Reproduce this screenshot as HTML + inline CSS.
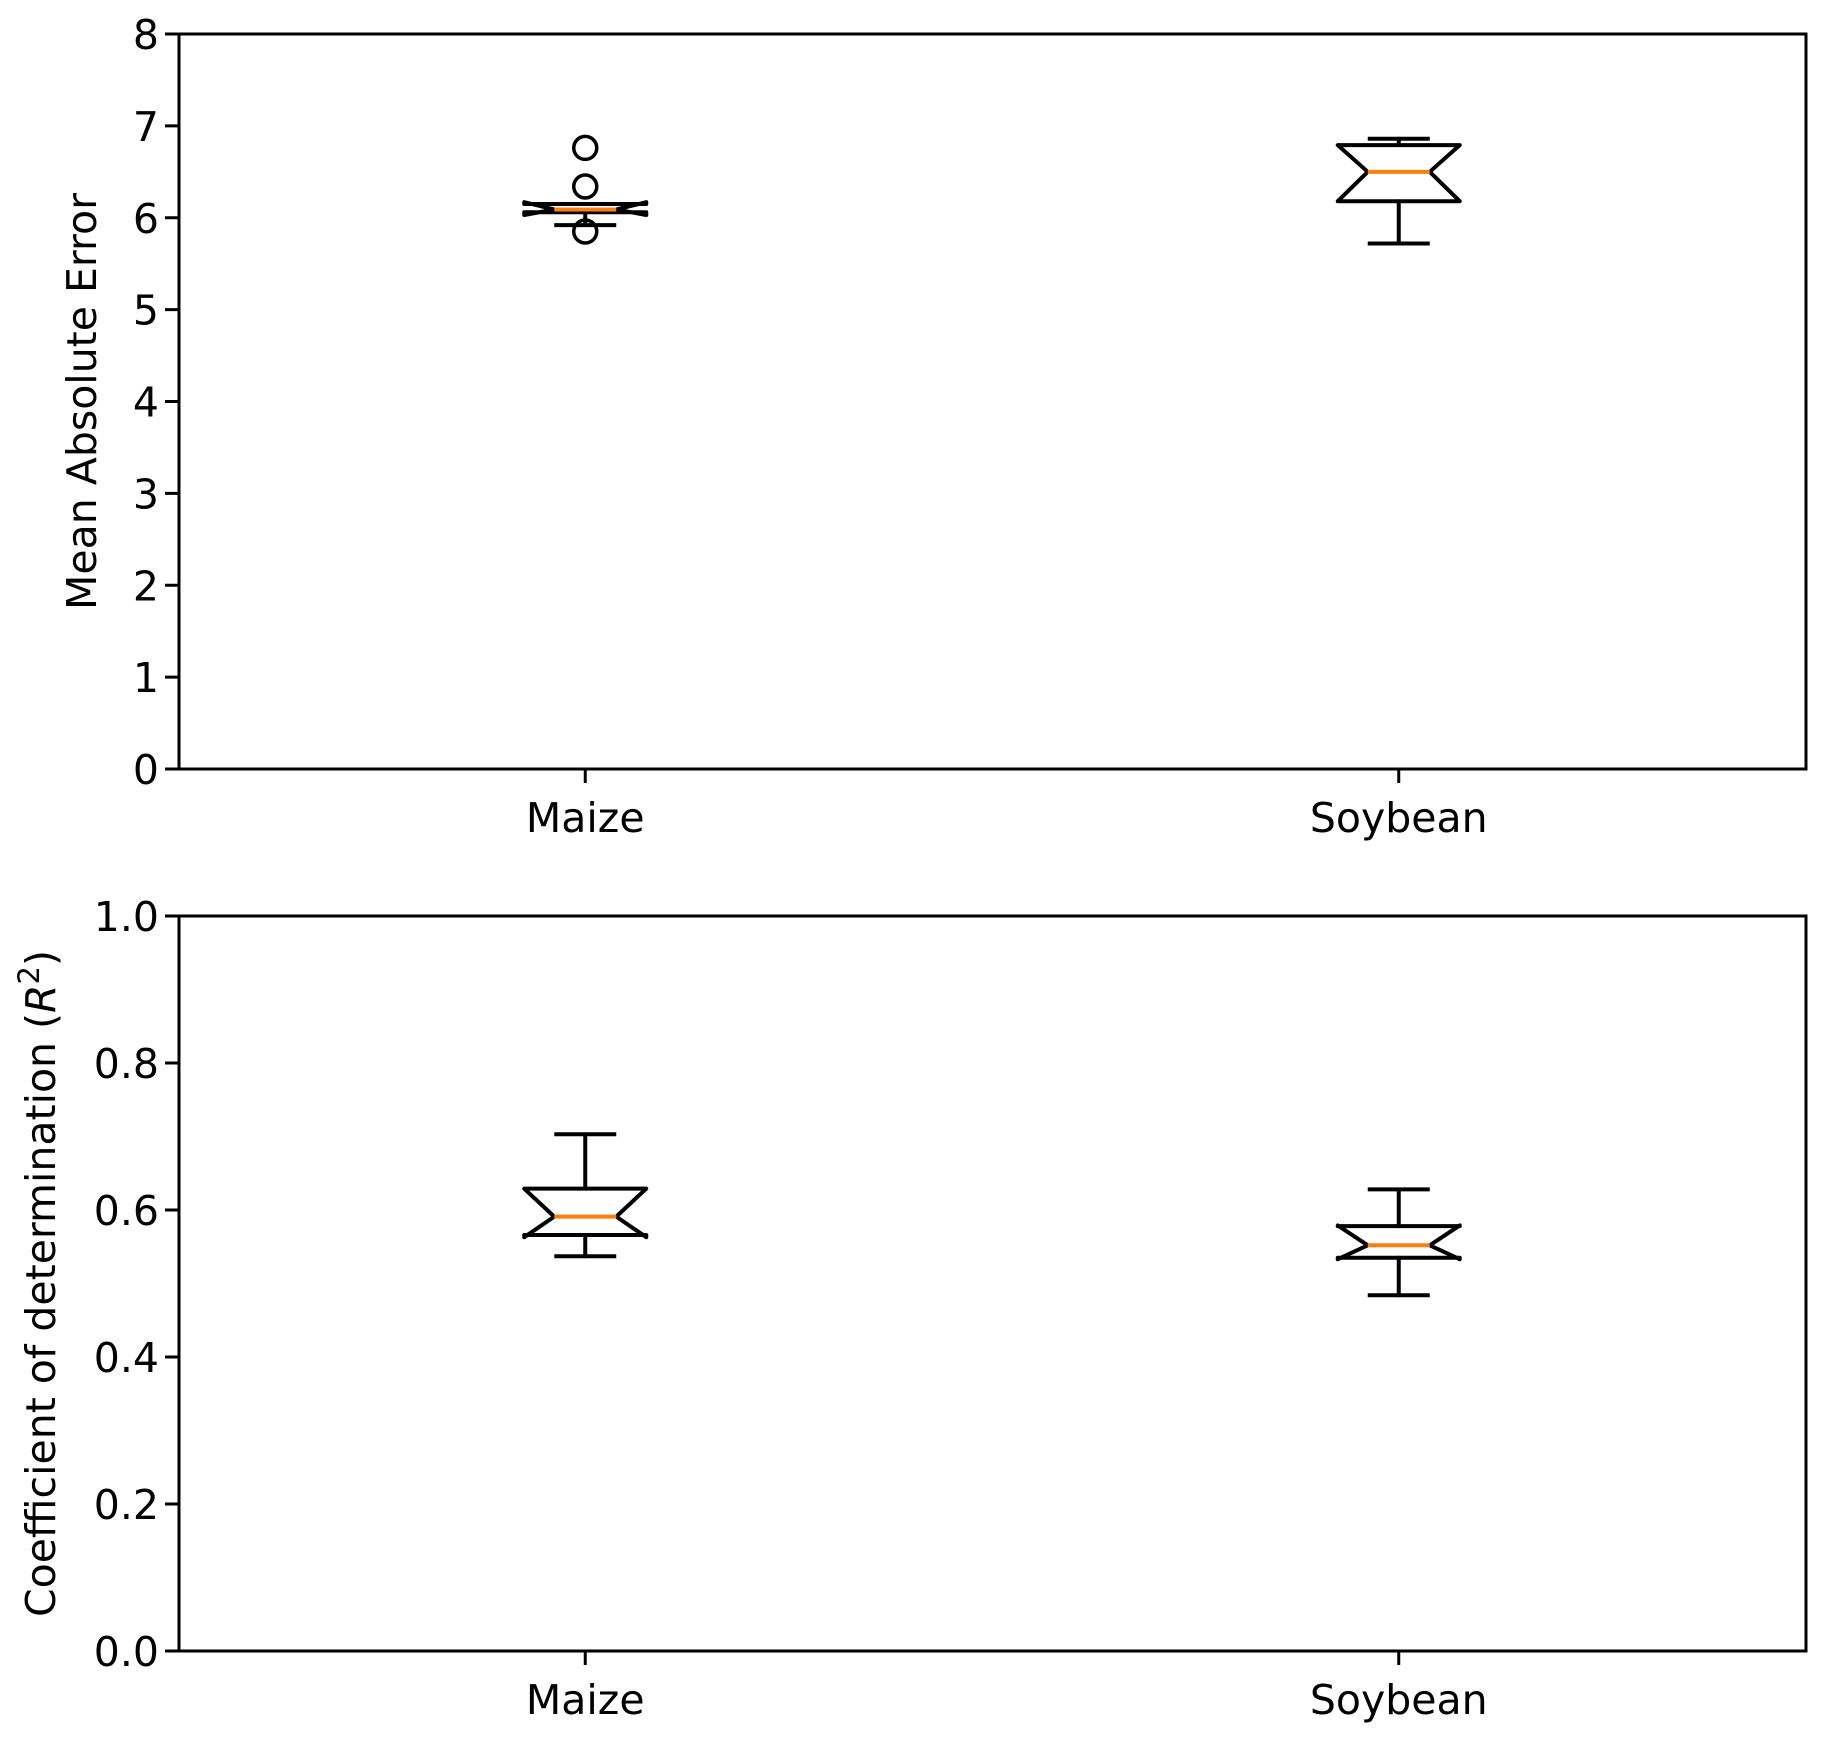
<!DOCTYPE html>
<html><head><meta charset="utf-8"><style>
html,body{margin:0;padding:0;background:#fff;}
svg{display:block;font-family:"DejaVu Sans","Liberation Sans",sans-serif;}
</style></head><body>
<svg id="chart" width="1827" height="1740" viewBox="0 0 1827 1740" xmlns="http://www.w3.org/2000/svg"></svg>
<script>
const categories = ["Maize", "Soybean"];
// MAE box stats: [whiskerLo, q1, notchLo, median, notchHi, q3, whiskerHi]
const maeStats = [
  [5.92, 6.06, 6.03, 6.09, 6.17, 6.15, 6.15],
  [5.72, 6.18, 6.18, 6.50, 6.79, 6.79, 6.86]
];
const maeOutliers = [[6.76, 6.34, 5.85], []];
const maeTicks = [0,1,2,3,4,5,6,7,8];
const r2Stats = [
  [0.537, 0.566, 0.563, 0.591, 0.629, 0.629, 0.703],
  [0.484, 0.535, 0.533, 0.552, 0.579, 0.578, 0.628]
];
const r2Outliers = [[], []];
const r2Ticks = [0.0,0.2,0.4,0.6,0.8,1.0];
const r2TickLabels = ["0.0","0.2","0.4","0.6","0.8","1.0"];

const svg = document.getElementById('chart');
const NS = 'http://www.w3.org/2000/svg';
function mk(tag, attrs, parent){
  const e = document.createElementNS(NS, tag);
  for (const k in attrs) e.setAttribute(k, attrs[k]);
  (parent||svg).appendChild(e);
  return e;
}
const L = 179, R = 1806;
const FS = 41;
const xPos = i => L + (R - L) * (i + 0.5) / 2 - 0.5;

function panel(name, top, bottom, ymin, ymax, ticks, tickLabels, stats, outliers, ylabelX, ylabelHTML){
  const g = mk('g', {});
  
  
  const y = v => bottom - (v - ymin) / (ymax - ymin) * (bottom - top);
  ticks.forEach((t, i) => {
    const tl = mk('line', {x1: L-14, x2: L, y1: y(t), y2: y(t), stroke:'#000','stroke-width':3}, g);
    
    
    const tx = mk('text', {x: L-20, y: y(t)+15, 'font-size':FS, 'text-anchor':'end', fill:'#000'}, g);
    tx.textContent = tickLabels ? tickLabels[i] : String(t);
    
    
  });
  categories.forEach((c, i) => {
    const cx = xPos(i);
    const tl = mk('line', {x1: cx, x2: cx, y1: bottom, y2: bottom+14, stroke:'#000','stroke-width':3}, g);
    
    
    const tx = mk('text', {x: cx, y: bottom+63, 'font-size':FS, 'text-anchor':'middle', fill:'#000'}, g);
    tx.textContent = c;
    
    
    const [wl, q1, nl, med, nh, q3, wh] = stats[i];
    const hw = 61, nw = 31, cw = 31;
    const bg = mk('g', {stroke:'#000','stroke-width':4,fill:'none','stroke-linejoin':'round','stroke-linecap':'round'}, g);
    
    
    const pts = [[cx-hw,y(q1)],[cx-hw,y(nl)],[cx-nw,y(med)],[cx-hw,y(nh)],[cx-hw,y(q3)],
                 [cx+hw,y(q3)],[cx+hw,y(nh)],[cx+nw,y(med)],[cx+hw,y(nl)],[cx+hw,y(q1)]];
    const bp = mk('polygon', {points: pts.map(p=>p.join(',')).join(' ')}, bg);
    
    
    const w1 = mk('line', {x1:cx,x2:cx,y1:y(q1),y2:y(wl)}, bg);
    
    
    const w2 = mk('line', {x1:cx,x2:cx,y1:y(q3),y2:y(wh)}, bg);
    
    
    const c1 = mk('line', {x1:cx-cw,x2:cx+cw,y1:y(wl),y2:y(wl),'stroke-linecap':'butt'}, bg);
    
    
    const c2 = mk('line', {x1:cx-cw,x2:cx+cw,y1:y(wh),y2:y(wh),'stroke-linecap':'butt'}, bg);
    
    
    const md = mk('line', {x1:cx-nw,x2:cx+nw,y1:y(med),y2:y(med),stroke:'#ff7f0e','stroke-width':4,'stroke-linecap':'butt'}, g);
    
    
    outliers[i].forEach(v => {
      const o = mk('circle', {cx: cx, cy: y(v), r: 11.5, fill:'none', stroke:'#000','stroke-width':3.5}, g);
      
      
    });
  });
  const fr = mk('rect', {x:L, y:top, width:R-L, height:bottom-top, fill:'none', stroke:'#000','stroke-width':3}, g);
  
  
  const yl = mk('text', {x:0, y:0, 'font-size':FS, 'text-anchor':'middle', fill:'#000',
    transform:`translate(${ylabelX},${(top+bottom)/2}) rotate(-90)`}, g);
  yl.innerHTML = ylabelHTML;
  
  
}
panel('mae', 34, 769, 0, 8, maeTicks, null, maeStats, maeOutliers, 96, 'Mean Absolute Error');
panel('r2', 916, 1651, 0, 1, r2Ticks, r2TickLabels, r2Stats, r2Outliers, 55,
  'Coefficient of determination (<tspan font-style="italic">R</tspan><tspan dy="-16" font-size="29">2</tspan><tspan dy="16">)</tspan>');
</script>
</body></html>
